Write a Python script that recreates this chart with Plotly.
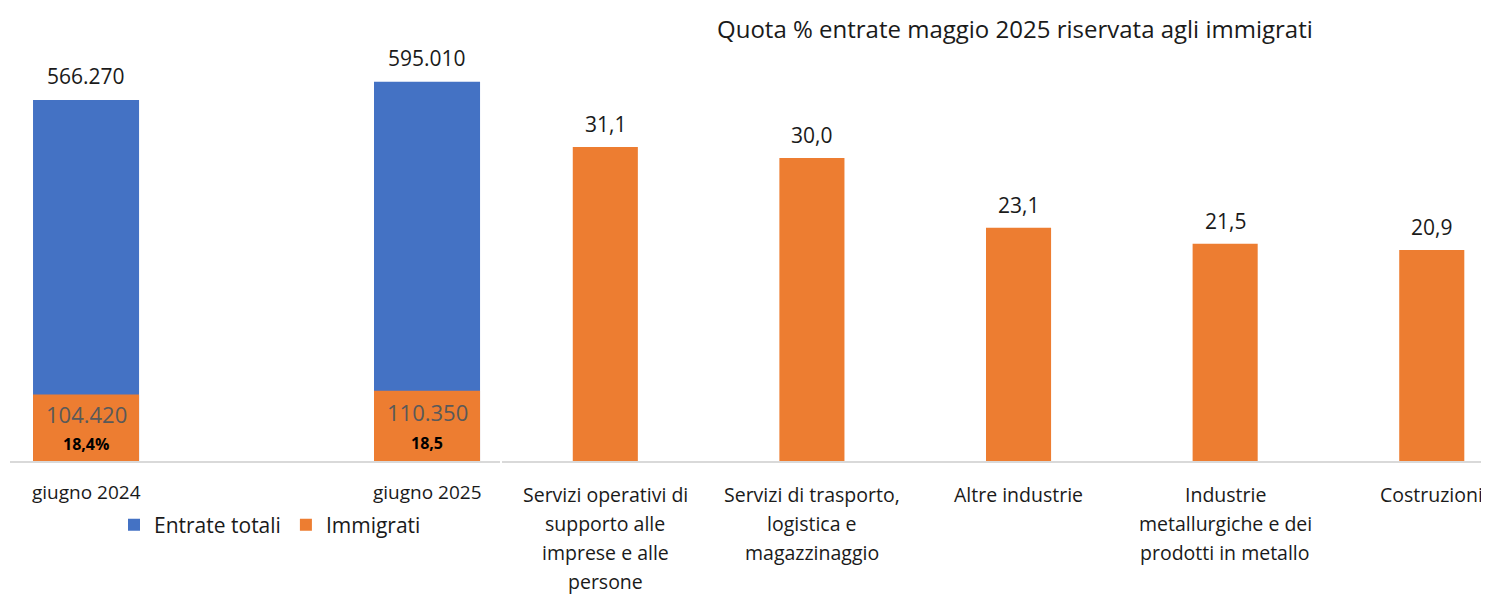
import plotly.graph_objects as go

# ---- data ----
periods = ["giugno 2024", "giugno 2025"]
entrate_totali = [566270, 595010]
immigrati = [104420, 110350]
quota_labels = ["18,4%", "18,5"]

settori = [
    "Servizi operativi di<br>supporto alle<br>imprese e alle<br>persone",
    "Servizi di trasporto,<br>logistica e<br>magazzinaggio",
    "Altre industrie",
    "Industrie<br>metallurgiche e dei<br>prodotti in metallo",
    "Costruzioni",
]
quota_settori = [31.1, 30.0, 23.1, 21.5, 20.9]

BLUE = "#4472C4"
ORANGE = "#ED7D31"
TXT = "#1a1a1a"
FONT = "Open Sans, sans-serif"
OFF = 8  # page body margin
W, H = 1489 - OFF, 595 - OFF


def px(x):
    return (x - OFF) / W


def py(y):
    return 1 - (y - OFF) / H


def it_int(v):
    return f"{v:,}".replace(",", ".")


def it_dec(v):
    return f"{v:.1f}".replace(".", ",")


fig = go.Figure()

fig.add_trace(go.Bar(
    x=periods, y=entrate_totali, name="Entrate totali",
    marker=dict(color=BLUE, line=dict(width=0)), width=0.311,
    textposition="none", xaxis="x", yaxis="y",
))
fig.add_trace(go.Bar(
    x=periods, y=immigrati, name="Immigrati",
    marker=dict(color=ORANGE, line=dict(width=0)), width=0.311,
    textposition="none", xaxis="x", yaxis="y",
))
fig.add_trace(go.Bar(
    x=settori, y=quota_settori, showlegend=False,
    marker=dict(color=ORANGE, line=dict(width=0)), width=0.315,
    textposition="none", xaxis="x2", yaxis="y2",
))

annotations = []
# value labels above bars
for p, v in zip(periods, entrate_totali):
    annotations.append(dict(x=p, y=v, xref="x", yref="y", text=it_int(v),
                            yanchor="bottom", yshift=8, showarrow=False,
                            font=dict(size=21, color=TXT, family=FONT)))
for s, v in zip(settori, quota_settori):
    annotations.append(dict(x=s, y=v, xref="x2", yref="y2", text=it_dec(v),
                            yanchor="bottom", yshift=7, showarrow=False,
                            font=dict(size=21, color=TXT, family=FONT)))
# labels inside immigrant bars
for p, v, q in zip(periods, immigrati, quota_labels):
    annotations.append(dict(x=p, y=v * 0.70, xref="x", yref="y", text=it_int(v),
                            showarrow=False, font=dict(size=22, color="#595959", family=FONT)))
    annotations.append(dict(x=p, y=v * 0.26, xref="x", yref="y", text=f"<b>{q}</b>",
                            showarrow=False, font=dict(size=16, color="#000000", family=FONT)))
# category labels (one annotation per text line, Excel-like line spacing)
for p in periods:
    annotations.append(dict(x=p, y=py(492), xref="x", yref="paper", text=p,
                            yanchor="middle", showarrow=False,
                            font=dict(size=19, color=TXT, family=FONT)))
for s in settori:
    for i, line in enumerate(s.split("<br>")):
        annotations.append(dict(x=s, y=py(494 + 29 * i), xref="x2", yref="paper", text=line,
                                yanchor="middle", showarrow=False,
                                font=dict(size=19.5, color=TXT, family=FONT)))
annotations.append(dict(x=px(1015), y=py(28), xref="paper", yref="paper",
                        xanchor="center", yanchor="middle",
                        text="Quota % entrate maggio 2025 riservata agli immigrati",
                        showarrow=False, font=dict(size=24, color=TXT, family=FONT)))

base = py(461)
top = py(40)

fig.update_layout(
    width=W, height=H,
    margin=dict(l=0, r=0, t=0, b=0),
    paper_bgcolor="white", plot_bgcolor="white",
    barmode="overlay",
    font=dict(family=FONT, color=TXT),
    showlegend=True,
    legend=dict(orientation="h", x=px(270), xanchor="center", y=py(525), yanchor="middle",
                font=dict(size=21, family=FONT, color=TXT), traceorder="normal",
                itemwidth=30),
    xaxis=dict(domain=[px(10), px(500)], range=[-0.223, 1.214], showgrid=False,
               showline=True, linecolor="#d9d9d9", linewidth=1.5, ticks="",
               showticklabels=False, anchor="y"),
    yaxis=dict(domain=[base, top], range=[0, 421 / 0.0006375], visible=False, anchor="x"),
    xaxis2=dict(domain=[px(502), 1.0], range=[-0.5, 4.277], showgrid=False,
                showline=True, linecolor="#d9d9d9", linewidth=1.5, ticks="",
                showticklabels=False, anchor="y2"),
    yaxis2=dict(domain=[base, top], range=[0, 421 / 10.1], visible=False, anchor="x2"),
    annotations=annotations,
)

fig.write_html("out.html")
